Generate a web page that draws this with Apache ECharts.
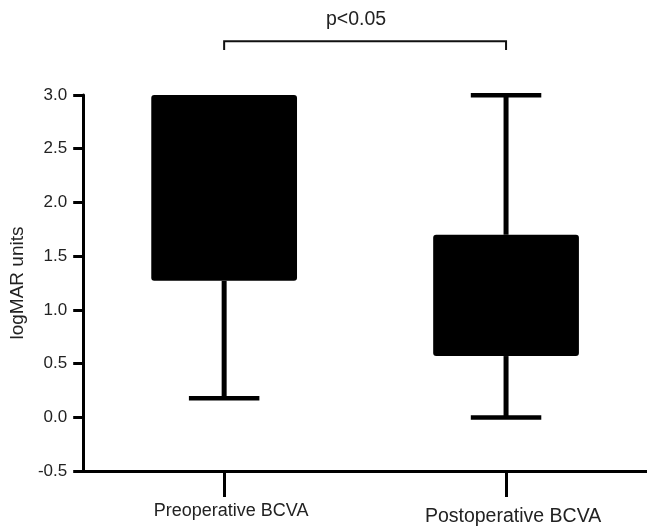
<!DOCTYPE html>
<html><head><meta charset="utf-8">
<script src="https://cdn.jsdelivr.net/npm/echarts@6/dist/echarts.min.js"></script>
<style>html,body{margin:0;padding:0;background:#fff}#c{width:647px;height:527px}</style>
</head><body><div id="c"></div>
<script>
// ---- data ----
const categories = ['Preoperative BCVA', 'Postoperative BCVA'];
const whiskerMin = [0.18, 0.0];
const boxLow     = [1.27, 0.57];
const boxHigh    = [3.0, 1.7];
const whiskerMax = [3.0, 3.0];
const yMin = -0.5, yMax = 3.0, yInterval = 0.5;
const sigLabel = 'p<0.05';
const sigPair = [0, 1];
const sigLevel = 3.5;
const sigTickLevel = 3.42;
const sigTextLevel = 3.7;

const FONT = 'Liberation Sans';
const TXT = '#222';

const boxData = categories.map((c, i) => [i, whiskerMin[i], boxLow[i], boxHigh[i], whiskerMax[i]]);

const chart = echarts.init(document.getElementById('c'), null, {renderer: 'canvas'});
chart.setOption({
  animation: false,
  backgroundColor: '#fff',
  grid: {left: 82, top: 95, width: 569, height: 376, containLabel: false},
  xAxis: {
    type: 'category',
    data: categories,
    boundaryGap: true,
    axisLine: {onZero: false, lineStyle: {color: '#000', width: 3}},
    axisTick: {show: true, alignWithLabel: true, length: 26, lineStyle: {color: '#000', width: 3}},
    axisLabel: {
      margin: 31,
      interval: 0,
      formatter: (v, i) => (i === 0 ? '{a|' + v + '}' : '{b|' + v + '}'),
      rich: {
        a: {fontFamily: FONT, fontSize: 18, color: TXT, padding: [0, 0, 0, 14]},
        b: {fontFamily: FONT, fontSize: 19.5, color: TXT, padding: [5, 0, 0, 14]}
      }
    },
    splitLine: {show: false}
  },
  yAxis: {
    type: 'value',
    min: yMin, max: yMax, interval: yInterval,
    name: 'logMAR units',
    nameLocation: 'middle',
    nameGap: 55,
    nameTextStyle: {fontFamily: FONT, fontSize: 19, color: TXT},
    axisLine: {show: true, lineStyle: {color: '#000', width: 3}},
    axisTick: {show: true, length: 10, lineStyle: {color: '#000', width: 3}},
    axisLabel: {
      margin: 16, fontFamily: FONT, fontSize: 17, color: TXT,
      formatter: v => v.toFixed(1)
    },
    splitLine: {show: false}
  },
  series: [
    {
      type: 'custom',
      data: boxData,
      encode: {x: 0, y: [1, 2, 3, 4]},
      clip: false,
      renderItem: function (params, api) {
        const i = api.value(0);
        const pMin = api.coord([i, api.value(1)]);
        const pLow = api.coord([i, api.value(2)]);
        const pHigh = api.coord([i, api.value(3)]);
        const pMax = api.coord([i, api.value(4)]);
        const band = api.size([1, 0])[0];
        const bw = band * 0.517;
        const cw = band * 0.25;
        const x = pLow[0];
        const black = {fill: '#000'};
        const children = [];
        children.push({type: 'line', shape: {x1: x, y1: pLow[1], x2: x, y2: pMin[1]}, style: {stroke: '#000', lineWidth: 5}});
        children.push({type: 'line', shape: {x1: x, y1: pHigh[1], x2: x, y2: pMax[1]}, style: {stroke: '#000', lineWidth: 5}});
        children.push({type: 'rect', shape: {x: x - cw / 2, y: pMin[1] - 2, width: cw, height: 4.5}, style: black});
        if (pMax[1] < pHigh[1] - 1) {
          children.push({type: 'rect', shape: {x: x - cw / 2, y: pMax[1] - 2, width: cw, height: 4.5}, style: black});
        }
        children.push({type: 'rect', shape: {x: x - bw / 2, y: pHigh[1], width: bw, height: pLow[1] - pHigh[1], r: 3}, style: black});
        return {type: 'group', children: children};
      },
      z: 3
    },
    {
      type: 'custom',
      data: [[sigPair[0], sigPair[1], sigLevel, sigTickLevel, sigTextLevel]],
      clip: false,
      silent: true,
      renderItem: function (params, api) {
        const a = api.coord([api.value(0), api.value(2)]);
        const b = api.coord([api.value(1), api.value(2)]);
        const aT = api.coord([api.value(0), api.value(3)]);
        const t = api.coord([api.value(0), api.value(4)]);
        const mid = (a[0] + b[0]) / 2;
        return {
          type: 'group',
          children: [
            {type: 'polyline', shape: {points: [[a[0], aT[1]], [a[0], a[1]], [b[0], b[1]], [b[0], aT[1]]]},
             style: {stroke: '#111', lineWidth: 2, fill: null}},
            {type: 'text', style: {text: sigLabel, x: mid - 9, y: t[1], align: 'center', verticalAlign: 'middle',
             fontFamily: FONT, fontSize: 19.5, fill: TXT}}
          ]
        };
      }
    }
  ]
});
</script>
</body></html>
